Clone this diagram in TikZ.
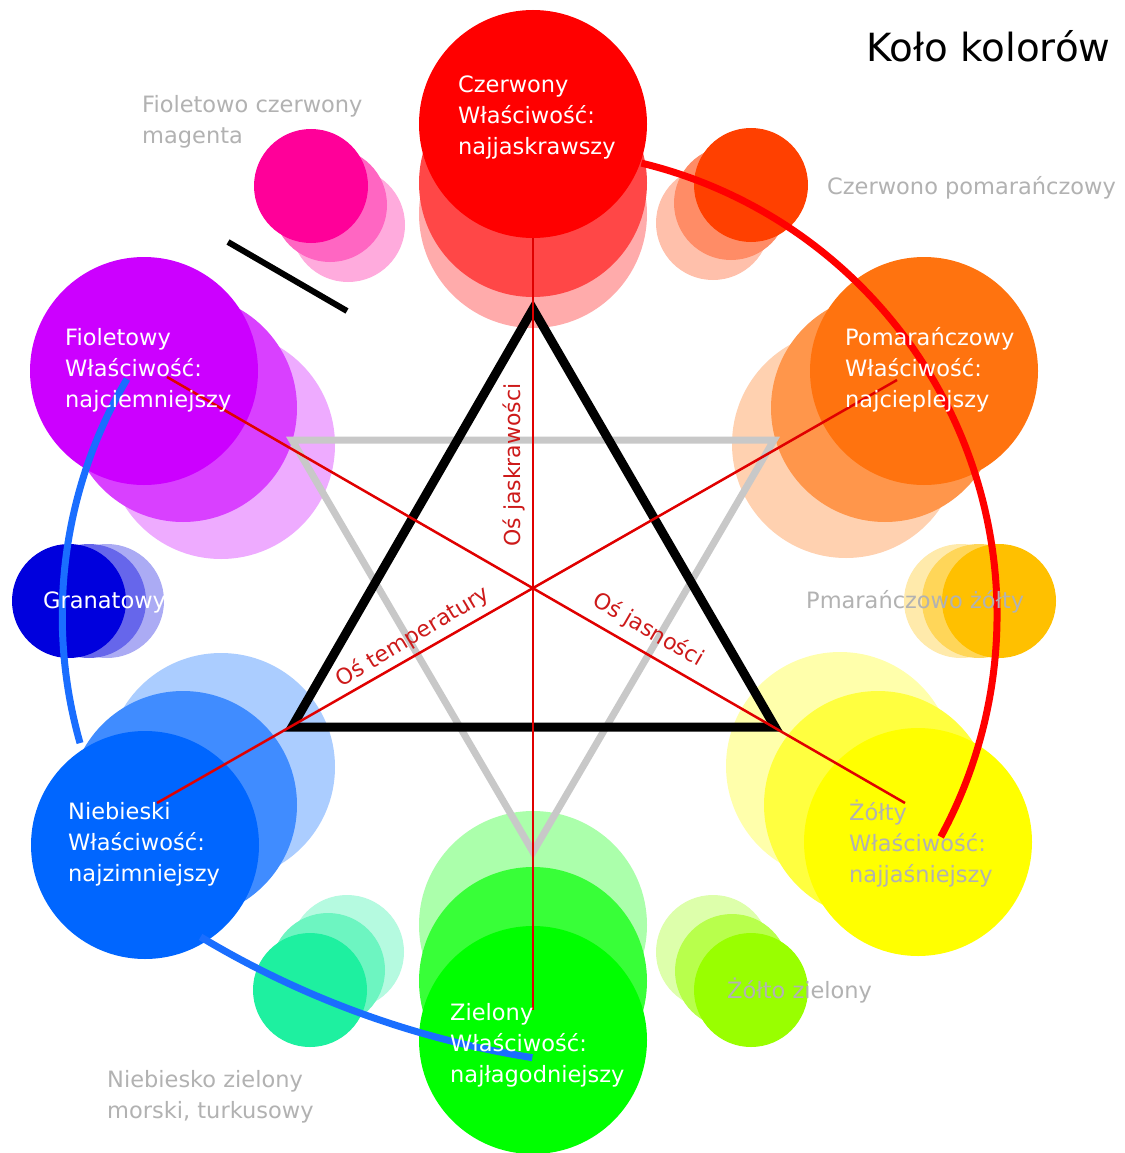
\documentclass[tikz,border=0pt]{standalone}
\usepackage{fontspec}
\setmainfont{DejaVu Sans}
\definecolor{cR}{HTML}{FF0000}
\definecolor{cCP}{HTML}{FF4000}
\definecolor{cP}{HTML}{FF730F}
\definecolor{cPZ}{HTML}{FFC000}
\definecolor{cY}{HTML}{FFFF00}
\definecolor{cYG}{HTML}{99FF00}
\definecolor{cG}{HTML}{00FF00}
\definecolor{cBG}{HTML}{1EF0A0}
\definecolor{cB}{HTML}{0066FF}
\definecolor{cGR}{HTML}{0000DD}
\definecolor{cF}{HTML}{CC00FF}
\definecolor{cFC}{HTML}{FF0099}
\definecolor{axisred}{HTML}{CD1A1A}
\definecolor{thinred}{HTML}{E00000}
\definecolor{triGray}{HTML}{C8C8C8}
\definecolor{arcBlue}{HTML}{1A6EFF}
% #1 name, #2 colour, #3 size, #4 main pos, #5 second pos, #6 third pos, #7 second mix
\newcommand\tripledisc[7]{%
  \node[disc=#3, fill=#2!33!white] (#1c) at #6 {};
  \node[disc=#3, fill=#2!#7!white] (#1b) at #5 {};
  \node[disc=#3, fill=#2] (#1a) at #4 {};}
\begin{document}
\begin{tikzpicture}[x=1pt,y=-1pt,
  disc/.style={circle,inner sep=0pt,minimum size=#1,draw=none},
  mainlbl/.style={text=white,font=\fontsize{22.5}{31}\selectfont,align=left,anchor=base west,inner sep=0pt},
  smalllbl/.style={text=black!30,font=\fontsize{22.5}{31}\selectfont,align=left,anchor=base west,inner sep=0pt},
  axislbl/.style={text=axisred,font=\fontsize{22}{26}\selectfont,inner sep=0pt},
  titlelbl/.style={text=black,font=\fontsize{38.8}{44}\selectfont,anchor=base west,inner sep=0pt},
  thinaxis/.style={draw=thinred,line width=2.5pt},
  thickarc/.style={line width=7pt},
]
\useasboundingbox[fill=white] (0,0) rectangle (1124,1153);

% ---- colour discs ----
\tripledisc{R}{cR}{228pt}{(533,124)}{(533,183)}{(533,214)}{72}
\tripledisc{CP}{cCP}{114pt}{(751,185)}{(731,203)}{(713,223)}{60}
\tripledisc{P}{cP}{228pt}{(924,371)}{(885,408)}{(846,444)}{75}
\tripledisc{PZ}{cPZ}{114pt}{(999,601)}{(979,601)}{(961,601)}{65}
\tripledisc{Y}{cY}{228pt}{(918,842)}{(878,805)}{(840,766)}{75}
\tripledisc{YG}{cYG}{114pt}{(751,990)}{(732,971)}{(713,952)}{70}
\tripledisc{G}{cG}{228pt}{(533,1040)}{(533,981)}{(533,925)}{78}
\tripledisc{BG}{cBG}{114pt}{(310,990)}{(328,970)}{(347,952)}{65}
\tripledisc{B}{cB}{228pt}{(145,845)}{(183,805)}{(221,767)}{75}
\tripledisc{GR}{cGR}{114pt}{(69,601)}{(89,601)}{(107,601)}{60}
\tripledisc{F}{cF}{228pt}{(144,371)}{(183,408)}{(221,445)}{75}
\tripledisc{FC}{cFC}{114pt}{(311,186)}{(330,205)}{(348,225)}{60}

% ---- triangles ----
\coordinate (gTL) at (292,440);
\coordinate (gTR) at (774,440);
\coordinate (gB) at (533,852);
\draw[triGray, line width=7pt, line join=miter] (gTL) -- (gTR) -- (gB) -- cycle;
\coordinate (kT) at (533,309);
\coordinate (kR) at (775,727);
\coordinate (kL) at (292,727);
\draw[black, line width=9pt, line join=miter] (kT) -- (kR) -- (kL) -- cycle;

% ---- thin red axes ----
\coordinate (vEnd) at (533,1010);
\coordinate (fEnd) at (167,377);
\coordinate (yEnd) at (905,803);
\coordinate (bEnd) at (157,803);
\coordinate (pEnd) at (897,380);
\draw[thinaxis] (Ra.south) -- (vEnd);
\draw[thinaxis] (fEnd) -- (yEnd);
\draw[thinaxis] (bEnd) -- (pEnd);

% ---- short black bar ----
\coordinate (barA) at (228,242);
\coordinate (barB) at (347,311);
\draw[black, line width=6pt] (barA) -- (barB);

% ---- thick arcs ----
\coordinate (redArcStart) at (641.4,163.1);
\draw[thickarc, cR] (redArcStart) arc[start angle=-76.4, end angle=28.5, radius=465];
\coordinate (blueArcStart) at (127,379);
\draw[thickarc, arcBlue] (blueArcStart) arc[start angle=210.6, end angle=164.1, radius=465];
\coordinate (blueArcTwoStart) at (200.6,936.9);
\draw[thickarc, arcBlue] (blueArcTwoStart) arc[start angle=121, end angle=99, radius=925];

% ---- main labels (anchor = baseline of last line) ----
\node[mainlbl] (tR) at (458,154) {Czerwony\\Właściwość:\\najjaskrawszy};
\node[mainlbl] (tP) at (845,407) {Pomarańczowy\\Właściwość:\\najcieplejszy};
\node[mainlbl] (tF) at (65,407) {Fioletowy\\Właściwość:\\najciemniejszy};
\node[mainlbl] (tB) at (68,881) {Niebieski\\Właściwość:\\najzimniejszy};
\node[mainlbl, text=black!30] (tY) at (849,882) {Żółty\\Właściwość:\\najjaśniejszy};
\node[mainlbl] (tG) at (450,1082) {Zielony\\Właściwość:\\najłagodniejszy};
\node[mainlbl] (tGR) at (43,608) {Granatowy};

% ---- secondary labels ----
\node[smalllbl] (tFC) at (142,143) {Fioletowo czerwony\\magenta};
\node[smalllbl] (tCP) at (827,194) {Czerwono pomarańczowy};
\node[smalllbl] (tPZ) at (806,608) {Pmarańczowo żółty};
\node[smalllbl] (tYG) at (727,998) {Żółto zielony};
\node[smalllbl] (tBG) at (107,1118) {Niebiesko zielony\\morski, turkusowy};

% ---- axis labels ----
\node[axislbl, rotate=90] (aJ) at (514,465) {Oś jaskrawości};
\node[axislbl, rotate=31] (aT) at (413,637) {Oś temperatury};
\node[axislbl, rotate=-30] (aS) at (648,630) {Oś jasności};

% ---- title ----
\node[titlelbl] (title) at (866,62) {Koło kolorów};
\end{tikzpicture}
\end{document}
